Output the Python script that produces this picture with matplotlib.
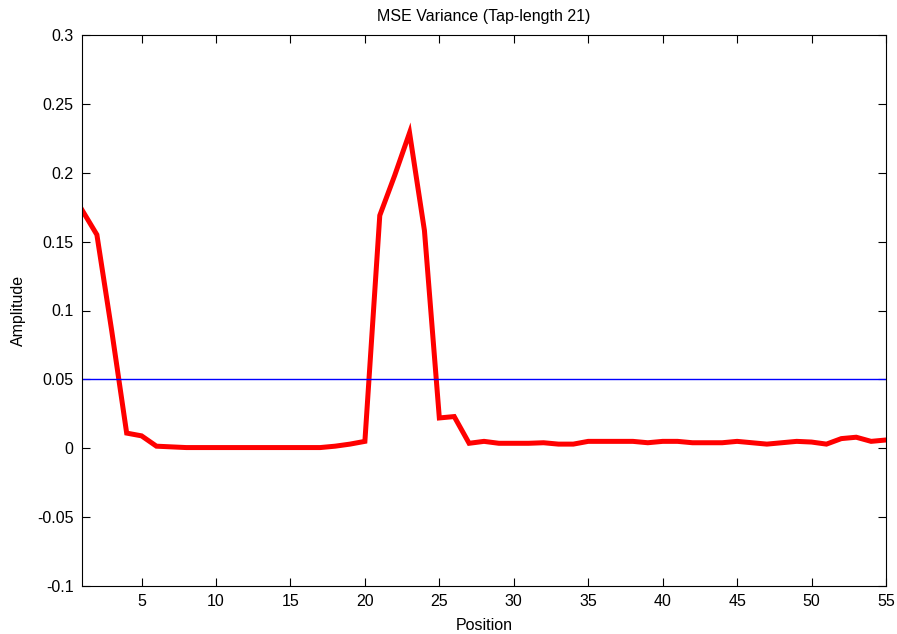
import matplotlib
matplotlib.use("Agg")
import matplotlib.pyplot as plt

plt.rcParams['font.family'] = ['Liberation Sans Narrow', 'Liberation Sans', 'DejaVu Sans']

# MSE variance per tap position
position = list(range(1, 56))
mse_variance = [
    0.173, 0.155, 0.085, 0.011, 0.009, 0.0015, 0.001, 0.0005, 0.0005, 0.0005,
    0.0005, 0.0005, 0.0005, 0.0005, 0.0005, 0.0005, 0.0005, 0.0015, 0.003, 0.005,
    0.169, 0.198, 0.229, 0.158, 0.022, 0.023, 0.0036, 0.005, 0.0036, 0.0036,
    0.0036, 0.004, 0.003, 0.003, 0.005, 0.005, 0.005, 0.005, 0.004, 0.005,
    0.005, 0.004, 0.004, 0.004, 0.005, 0.004, 0.003, 0.004, 0.005, 0.0045,
    0.003, 0.007, 0.008, 0.005, 0.006,
]
threshold = 0.05

x_ticks = [5, 10, 15, 20, 25, 30, 35, 40, 45, 50, 55]
y_ticks = [-0.1, -0.05, 0, 0.05, 0.1, 0.15, 0.2, 0.25, 0.3]
y_tick_labels = ['-0.1', '-0.05', '0', '0.05', '0.1', '0.15', '0.2', '0.25', '0.3']

fig = plt.figure(figsize=(8.97, 6.34), dpi=100)
ax = fig.add_axes([82 / 897, 1 - 586 / 634, (886 - 82) / 897, (586 - 35) / 634])

ax.plot(position, mse_variance, color=(1, 0, 0), linewidth=3.6, solid_joinstyle='miter')
ax.axhline(threshold, color=(0, 0, 1), linewidth=1.0)

ax.set_xlim(1, 55)
ax.set_ylim(-0.1, 0.3)
ax.set_xticks(x_ticks)
ax.set_yticks(y_ticks)
ax.set_yticklabels(y_tick_labels)
ax.tick_params(direction='in', length=6, width=0.8, top=True, right=True,
               labelsize=11.5, pad=6)
for s in ax.spines.values():
    s.set_linewidth(0.8)

ax.set_title('MSE Variance (Tap-length 21)', fontsize=11.5, pad=10)
ax.set_xlabel('Position', fontsize=11.5, labelpad=6)
ax.set_ylabel('Amplitude', fontsize=11.5, labelpad=8)

fig.savefig('out.png', dpi=100)
